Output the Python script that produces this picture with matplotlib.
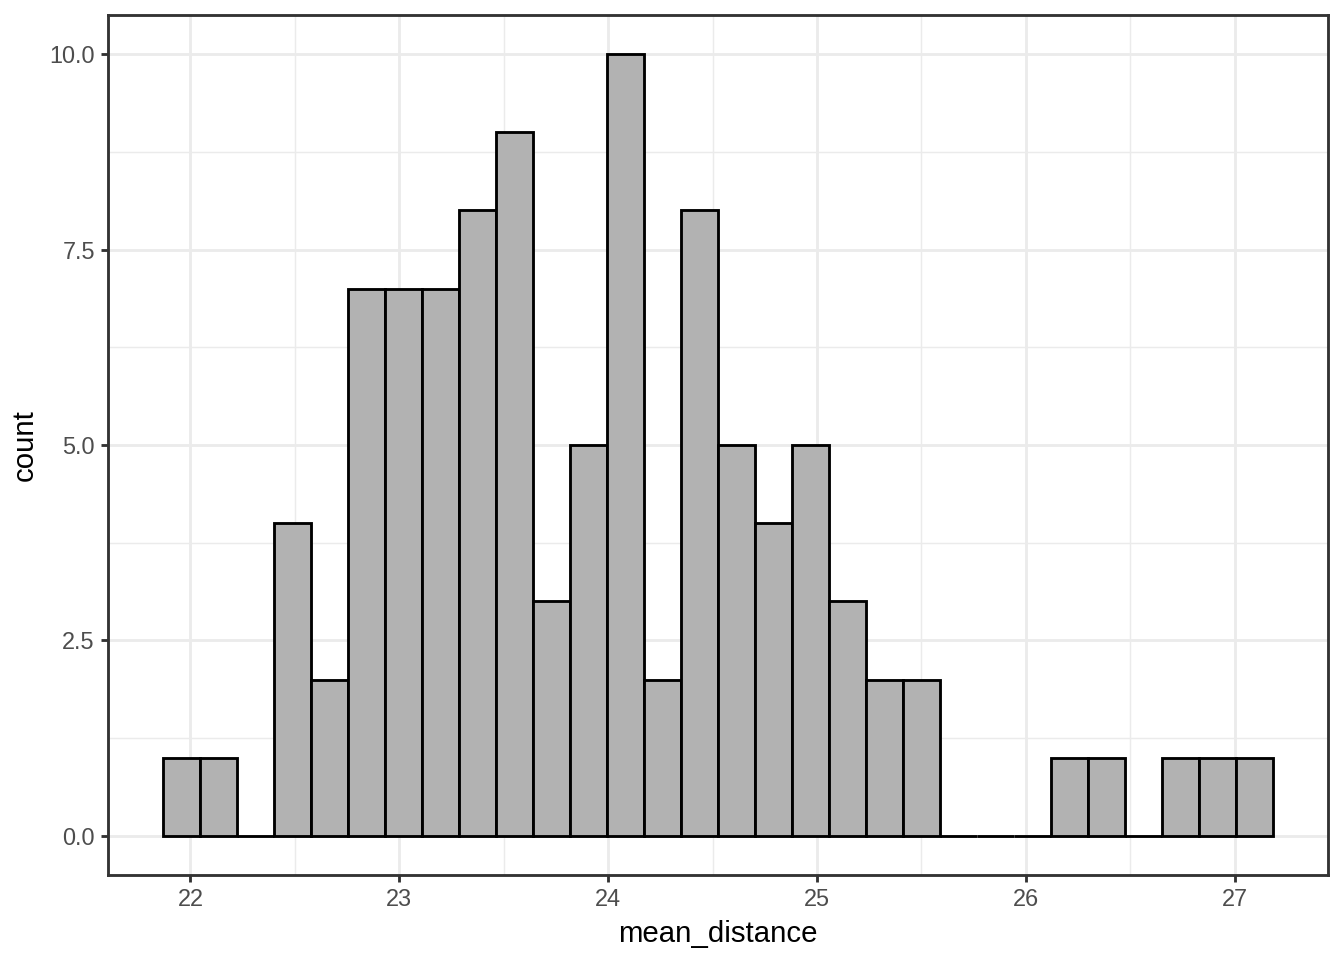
import matplotlib
matplotlib.use("Agg")
import matplotlib.pyplot as plt
import numpy as np

# Histogram data (30 bins)
bin_start = 21.871
bin_width = 0.1770
counts = [1, 1, 0, 4, 2, 7, 7, 7, 8, 9, 3, 5, 10, 2, 8, 5, 4, 5, 3, 2, 2, 0, 0, 0, 1, 1, 0, 1, 1, 1]
x_ticks = [22, 23, 24, 25, 26, 27]
y_ticks = [0.0, 2.5, 5.0, 7.5, 10.0]
y_tick_labels = ["0.0", "2.5", "5.0", "7.5", "10.0"]

plt.rcParams['font.family'] = ['Liberation Sans', 'DejaVu Sans']

fig = plt.figure(figsize=(7, 5), dpi=192)
ax = fig.add_axes([108/1344, 1 - 875/960, (1328-108)/1344, (875-15)/960])

edges = bin_start + bin_width * np.arange(len(counts) + 1)
lefts = edges[:-1]
lw = 1.07
ax.bar(lefts, counts, width=bin_width, align='edge', color='#B2B2B2',
       edgecolor='black', linewidth=lw, zorder=3)

ax.set_xticks(x_ticks)
ax.set_xticklabels([str(t) for t in x_ticks])
ax.set_yticks(y_ticks)
ax.set_yticklabels(y_tick_labels)
ax.set_xticks([21.5 + i for i in range(7)], minor=True)
ax.set_yticks([1.25, 3.75, 6.25, 8.75], minor=True)

xmin, xmax = edges[0], edges[-1]
xr = xmax - xmin
ax.set_xlim(xmin - 0.05 * xr, xmax + 0.05 * xr)
ax.set_ylim(-0.5, 10.5)

ax.grid(which='major', color='#EBEBEB', linewidth=1.07, zorder=0)
ax.grid(which='minor', color='#EBEBEB', linewidth=0.53, zorder=0)
ax.set_axisbelow(True)

for s in ax.spines.values():
    s.set_color('#333333')
    s.set_linewidth(1.07)

ax.tick_params(which='major', length=2.75, width=1.07, color='#333333',
               labelsize=8.8, labelcolor='#4D4D4D', pad=2.2)
ax.tick_params(which='minor', length=0)

ax.set_xlabel('mean_distance', fontsize=11, color='black', labelpad=3.2)
ax.set_ylabel('count', fontsize=11, color='black', labelpad=4)

fig.savefig('out.png', dpi=192)
